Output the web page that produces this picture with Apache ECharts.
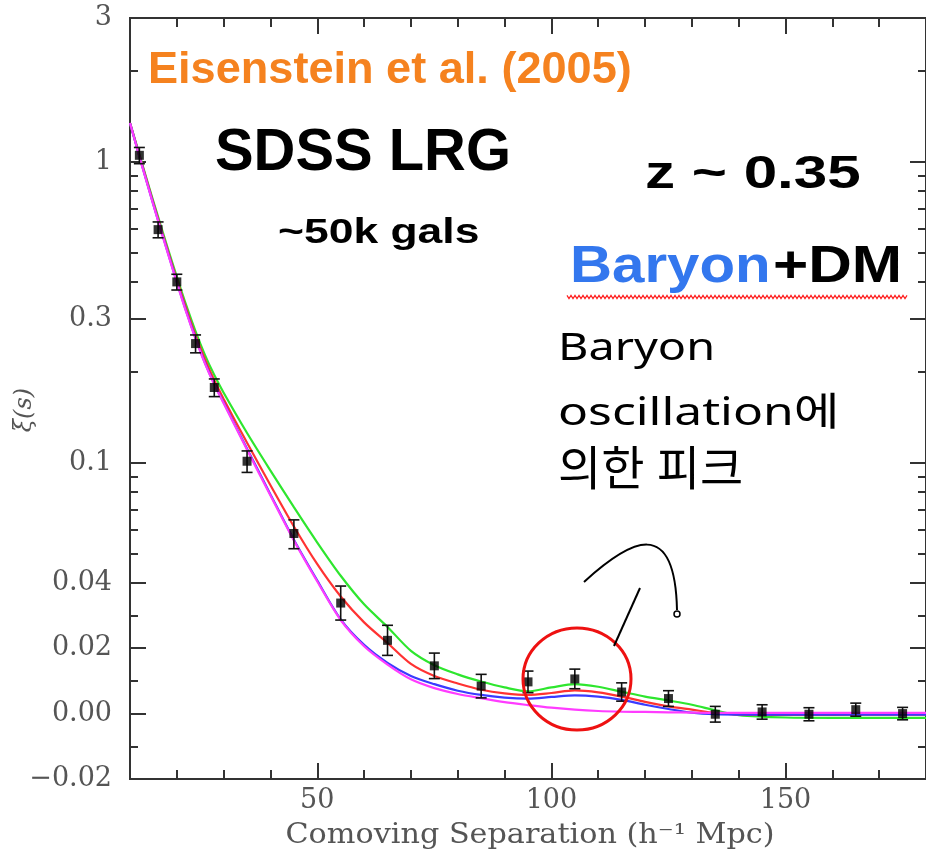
<!DOCTYPE html>
<html>
<head>
<meta charset="utf-8">
<script src="https://cdn.jsdelivr.net/npm/echarts@6/dist/echarts.min.js"></script>
<style>
  html, body { margin:0; padding:0; background:#fff; }
  #main { width:926px; height:859px; }
</style>
</head>
<body>
<div id="main"></div>
<script>
var sepX = [12,16,20,24,28,35,45,55,65,75,85,95,105,115,125,135,145,155,165,175];
var xiObs = [1.05,0.595,0.399,0.249,0.178,0.1013,0.0583,0.0338,0.0224,0.0146,0.0084,0.0097,0.0106,0.0066,0.0046,-0.0002,0.0005,-0.0002,0.0012,0.0000];
var xiErr = [0.065,0.036,0.024,0.017,0.012,0.0083,0.0064,0.0052,0.0046,0.0039,0.0036,0.0033,0.003,0.0028,0.0024,0.0024,0.0022,0.002,0.002,0.0019];

// model curves
var modelX = [10,12,14,16,18,20,22,24,26,28,30,35,40,45,50,55,60,65,70,75,80,85,90,95,100,105,110,115,120,125,130,135,140,150,160,170,180];
var greenXi = [1.345,1.058,0.830,0.656,0.520,0.415,0.334,0.2735,0.2285,0.1957,0.171,
  0.1257,0.0943,0.0713,0.0544,0.0422,0.0334,0.0265,0.0192,0.0148,0.0120,0.0098,0.0080,0.0068,0.0080,0.0090,0.0082,0.0067,0.0052,0.0040,0.0027,0.0010,-0.0005,
  -0.0012,-0.0013,-0.0013,-0.0013];
var redXi = [1.345,1.050,0.822,0.646,0.511,0.406,0.326,0.265,0.221,0.188,0.163,
  0.1166,0.0843,0.0615,0.0461,0.0358,0.0279,0.0216,0.0152,0.0115,0.0092,0.0073,0.0062,0.0057,0.0063,0.0071,0.0065,0.0052,0.0036,0.0022,0.0012,0.0002,-0.0003,
  -0.0004,-0.0004,-0.0003,-0.0003];
var blueXi = [1.345,1.042,0.814,0.638,0.504,0.399,0.319,0.2595,0.215,0.183,0.1586,
  0.1115,0.0786,0.0556,0.0407,0.0288,0.0210,0.0155,0.0115,0.0090,0.0070,0.0057,0.0049,0.0046,0.0051,0.0056,0.0052,0.0042,0.0027,0.0014,0.0003,-0.0002,-0.0003,
  -0.0003,-0.0003,-0.0003,-0.0003];
var magentaXi = [1.345,1.040,0.812,0.636,0.502,0.397,0.317,0.258,0.214,0.182,0.1578,
  0.1105,0.0780,0.0553,0.0404,0.0286,0.0206,0.0150,0.0105,0.0078,0.0060,0.0047,0.0035,0.0026,0.0018,0.0012,0.0008,0.0006,0.0005,0.0004,0.0003,0.0002,0.0002,
  0.0002,0.0002,0.0002,0.0002];

// axis ticks
var yMajor = [-0.02,0,0.02,0.04,0.1,0.3,1,3];
var yLabels = ['\u22120.02','0.00','0.02','0.04','0.1','0.3','1','3'];
var yMinor = [-0.01,0.01,0.03,0.05,0.06,0.07,0.08,0.09,0.2,0.4,0.5,0.6,0.7,0.8,0.9,2];
var xMajor = [50,100,150];
var xMinor = [20,30,40,60,70,80,90,110,120,130,140,160,170];

// linear below 0.04, logarithmic above (smooth join)
var LIN = 0.04;
function fwd(v){ return v <= LIN ? v : LIN + LIN*Math.log(v/LIN); }

var yMin = fwd(-0.02), yMax = fwd(3);
var axColor = '#333';
var tickFont = {fontFamily:'DejaVu Serif', fontSize:27, color:'#555'};

function xAx(pos, ticks, len, withLabel){
  var a = {
    type:'value', min:10, max:180, position:pos,
    axisLine:{show:true, onZero:false, lineStyle:{color:axColor, width:2}},
    splitLine:{show:false},
    axisTick:{show:true, inside:true, length:len, customValues:ticks, lineStyle:{color:axColor, width:2}},
    axisLabel:{show:false}
  };
  if(withLabel){
    a.axisLabel = Object.assign({show:true, customValues:ticks, margin:8}, tickFont);
  }
  return a;
}
function yAx(pos, ticks, len, withLabel){
  var a = {
    type:'value', min:yMin, max:yMax, position:pos,
    axisLine:{show:true, onZero:false, lineStyle:{color:axColor, width:2}},
    splitLine:{show:false},
    axisTick:{show:true, inside:true, length:len, customValues:ticks.map(fwd), lineStyle:{color:axColor, width:2}},
    axisLabel:{show:false}
  };
  if(withLabel){
    a.axisLabel = Object.assign({show:true, customValues:ticks.map(fwd), margin:18,
      formatter:function(v){
        for(var i=0;i<yMajor.length;i++){ if(Math.abs(fwd(yMajor[i])-v)<1e-9) return yLabels[i]; }
        return '';
      }}, tickFont);
  }
  return a;
}

function curve(xs, ys){ return xs.map(function(x,i){ return [x, fwd(ys[i])]; }); }
function lineSeries(name, color, ys){
  return {name:name, type:'line', data:curve(modelX, ys), smooth:0.3, showSymbol:false,
    lineStyle:{color:color, width:2.2}, z:2, silent:true};
}

// annotation text helper
function txt(s, x, y, size, weight, color, family, sx, align){
  return {type:'text', x:x, y:y, scaleX:sx||1, z:10,
    style:{text:s, fontSize:size, fontWeight:weight, fontFamily:family, fill:color,
      align:align||'left', verticalAlign:'middle'}};
}

var wave = [];
for(var i=0;i<=170;i++){ wave.push([567 + i*2, 297 + (i%2 ? 1.6 : -1.6)]); }

var korFont = '"Noto Sans","Noto Sans CJK KR"';

var chart = echarts.init(document.getElementById('main'));
chart.setOption({
  backgroundColor:'#fff',
  animation:false,
  grid:{left:130, top:18, width:799, height:761},
  xAxis:[xAx('bottom', xMajor, 16, true), xAx('bottom', xMinor, 9, false),
         xAx('top', xMajor, 16, false), xAx('top', xMinor, 9, false)],
  yAxis:[yAx('left', yMajor, 16, true), yAx('left', yMinor, 8, false),
         yAx('right', yMajor, 16, false), yAx('right', yMinor, 8, false)],
  series:[
    lineSeries('green', '#2ee62e', greenXi),
    lineSeries('red', '#ff3232', redXi),
    lineSeries('blue', '#3a3aff', blueXi),
    lineSeries('magenta', '#ff3cff', magentaXi),
    {
      name:'err', type:'custom', z:4, silent:true,
      data:sepX.map(function(x,i){ return [x, fwd(xiObs[i]-xiErr[i]), fwd(xiObs[i]+xiErr[i])]; }),
      encode:{x:0, y:[1,2]},
      renderItem:function(params, api){
        var x = api.value(0);
        var lo = api.coord([x, api.value(1)]);
        var hi = api.coord([x, api.value(2)]);
        var c = 5.5;
        var st = {stroke:'#111', lineWidth:1.6};
        return {type:'group', children:[
          {type:'line', shape:{x1:lo[0], y1:lo[1], x2:hi[0], y2:hi[1]}, style:st},
          {type:'line', shape:{x1:lo[0]-c, y1:lo[1], x2:lo[0]+c, y2:lo[1]}, style:st},
          {type:'line', shape:{x1:hi[0]-c, y1:hi[1], x2:hi[0]+c, y2:hi[1]}, style:st}
        ]};
      }
    },
    {
      name:'data', type:'scatter', z:5, silent:true,
      symbol:'rect', symbolSize:9,
      itemStyle:{color:'#000'},
      data:curve(sepX, xiObs)
    }
  ],
  graphic:[
    {type:'text', x:25, y:410, rotation:Math.PI/2, z:10,
      style:{text:'\u03BE(s)', fontSize:24, fontFamily:'DejaVu Serif', fontStyle:'italic', fill:'#555', align:'center', verticalAlign:'middle'}},
    {type:'text', x:530, y:836, scaleX:1.12, z:10,
      style:{text:'Comoving Separation (h\u207B\u00B9 Mpc)', fontSize:27, fontFamily:'DejaVu Serif', fill:'#555', align:'center', verticalAlign:'middle'}},
    txt('Eisenstein et al. (2005)', 148, 71, 44, 'bold', '#f5821f', 'Liberation Sans', 1.025),
    txt('SDSS LRG', 215, 153, 60, 'bold', '#000', 'Liberation Sans', 0.965),
    txt('~50k gals', 278, 233, 35, 'bold', '#000', 'Liberation Sans', 1.27),
    txt('z ~ 0.35', 645, 175, 47, 'bold', '#000', 'Liberation Sans', 1.28),
    txt('Baryon', 570, 268, 52, 'bold', '#3377ee', 'Liberation Sans', 1.12),
    txt('+DM', 773, 268, 52, 'bold', '#000', 'Liberation Sans', 1.16),
    {type:'polyline', z:10, shape:{points:wave}, style:{stroke:'#ff2020', lineWidth:1.2, fill:null}},
    txt('Baryon', 558, 349, 39, 'normal', '#000', korFont, 1.2),
    txt('oscillation\uC5D0', 558, 414, 39, 'normal', '#000', korFont, 1.275),
    txt('\uC758\uD55C \uD53C\uD06C', 558, 472, 47, 'normal', '#000', korFont, 1.0),
    {type:'ellipse', z:10, shape:{cx:577, cy:679, rx:54, ry:51}, style:{stroke:'#ee1111', lineWidth:3, fill:null}},
    {type:'line', z:10, shape:{x1:640, y1:588, x2:614, y2:646}, style:{stroke:'#000', lineWidth:2}},
    {type:'bezierCurve', z:10, shape:{x1:584, y1:582, cpx1:630, cpy1:540, cpx2:675, cpy2:515, x2:677, y2:610}, style:{stroke:'#000', lineWidth:2, fill:null}},
    {type:'circle', z:10, shape:{cx:677, cy:614, r:3}, style:{stroke:'#000', lineWidth:1.5, fill:null}}
  ]
});
</script>
</body>
</html>
